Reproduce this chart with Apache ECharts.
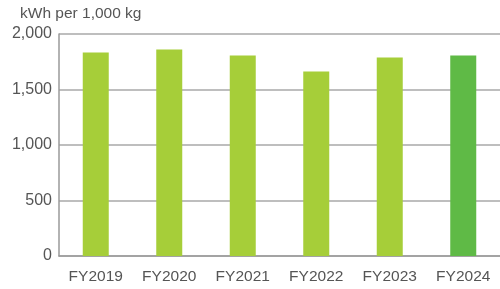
<!DOCTYPE html>
<html lang="en">
  <head>
    <meta charset="UTF-8" />
    <title>Energy intensity</title>
    <script src="https://cdn.jsdelivr.net/npm/echarts@6/dist/echarts.min.js"></script>
    <style>
      * {
        padding: 0;
        margin: 0;
      }
      #main {
        width: 500px;
        height: 289px;
        background-color: #ffffff;
      }
    </style>
  </head>
  <body>
    <div id="main"></div>
    <script>
      var years = ["FY2019", "FY2020", "FY2021", "FY2022", "FY2023", "FY2024"];
      var values = [1834, 1861, 1807, 1663, 1789, 1807];
      var unitLabel = "kWh per 1,000 kg";

      var fontColor = "#555555";
      var fontFam = "Liberation Sans, Arial, sans-serif";

      var myChart = echarts.init(document.getElementById("main"));
      var option = {
        backgroundColor: "#ffffff",
        animation: false,
        grid: {
          left: 59,
          right: -7,
          top: 34,
          bottom: 33,
          containLabel: false,
        },
        xAxis: {
          type: "category",
          data: years,
          axisTick: { show: false },
          axisLine: {
            show: true,
            lineStyle: { color: "#9a9a9a", width: 1.5 },
          },
          axisLabel: {
            color: fontColor,
            fontSize: 15.5,
            fontFamily: fontFam,
            margin: 13,
          },
        },
        yAxis: {
          type: "value",
          min: 0,
          max: 2000,
          interval: 500,
          name: unitLabel,
          nameLocation: "end",
          nameGap: 12,
          nameTextStyle: {
            color: fontColor,
            fontSize: 15.5,
            fontFamily: fontFam,
            align: "left",
            padding: [0, 0, 0, -39],
          },
          axisLine: {
            show: true,
            lineStyle: { color: "#9a9a9a", width: 1.5 },
          },
          axisTick: { show: false },
          axisLabel: {
            color: fontColor,
            fontSize: 16,
            fontFamily: fontFam,
            margin: 7,
            padding: [5, 0, 0, 0],
            formatter: function (v) {
              return v.toLocaleString("en-US");
            },
          },
          splitLine: {
            show: true,
            lineStyle: { color: "#a8a8a8", width: 1.5 },
          },
        },
        series: [
          {
            type: "bar",
            barWidth: 26,
            data: values.map(function (v, i) {
              return {
                value: v,
                itemStyle: {
                  color: i === values.length - 1 ? "#5fba46" : "#a6ce39",
                },
              };
            }),
          },
        ],
      };
      myChart.setOption(option);
    </script>
  </body>
</html>
